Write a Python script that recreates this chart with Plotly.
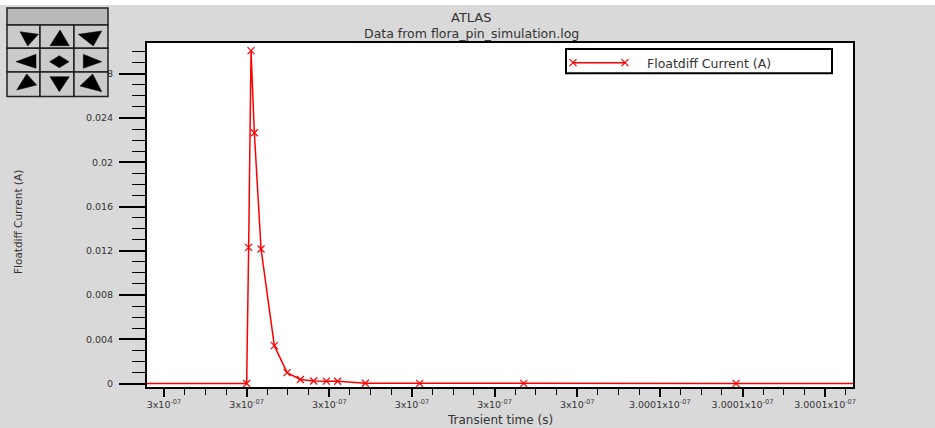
import plotly.graph_objects as go

# Floatdiff current transient (time in ps, current in A)
time_ps = [299990.0, 300000.0, 300000.024, 300000.053, 300000.093, 300000.174,
           300000.335, 300000.489, 300000.650, 300000.811, 300000.964,
           300001.101, 300001.436, 300002.093, 300003.352, 300005.922, 300010.9]
current_a = [0.0, 0.0, 0.01231, 0.03009, 0.02267, 0.01216,
             0.00342, 0.00098, 0.00036, 0.00023, 0.00021,
             0.00020, 0.00002, 0.00001, 0.00001, 0.000005, 0.0]

x_tick_ps = [299999, 300000, 300001, 300002, 300003, 300004, 300005, 300006, 300007]
x_tick_text = ["3x10<sup>-07</sup>"] * 6 + ["3.0001x10<sup>-07</sup>"] * 3
y_tick_vals = [0, 0.004, 0.008, 0.012, 0.016, 0.02, 0.024, 0.028]
y_tick_text = ["0", "0.004", "0.008", "0.012", "0.016", "0.02", "0.024", "0.028"]

series_name = "Floatdiff Current (A)"

# ---- layout geometry (pixels) ----
W, H = 935, 428
L, R, T, B = 147, 853, 43, 387          # plot-area edges


def px(x):
    return (x - L) / (R - L)


def py(y):
    return (B - y) / (B - T)


FONT = "DejaVu Sans"
TXT = "#333333"
RED = "#ff0000"
BG = "#d9d9d9"

time_s = [t * 1e-12 for t in time_ps]

marker_style = dict(symbol="x-thin", size=7, color=RED, line=dict(color=RED, width=1.2))

fig = go.Figure()

fig.add_trace(go.Scatter(
    x=time_s, y=current_a, mode="lines+markers", name=series_name,
    line=dict(color=RED, width=1.5), marker=marker_style,
    cliponaxis=True, showlegend=False, hoverinfo="x+y",
))

# legend key drawn on a pixel-space overlay axis
fig.add_trace(go.Scatter(
    x=[573, 625], y=[62.7, 62.7], xaxis="x2", yaxis="y2", mode="lines+markers",
    line=dict(color=RED, width=1.5), marker=marker_style,
    showlegend=False, hoverinfo="skip",
))

shapes = []
annotations = []

# legend box
shapes.append(dict(type="rect", xref="x2", yref="y2", x0=566, x1=832, y0=49, y1=73.3,
                   line=dict(color="black", width=2), fillcolor="white", layer="below"))
annotations.append(dict(xref="x2", yref="y2", x=645, y=63.5, xanchor="left", yanchor="middle",
                        text=series_name, showarrow=False,
                        font=dict(family=FONT, size=12.5, color=TXT)))

# white strip along the top edge
shapes.append(dict(type="rect", xref="paper", yref="paper", x0=px(0), x1=px(W),
                   y0=py(5), y1=py(0), line=dict(width=0), fillcolor="white", layer="above"))


def rect_px(x0, y0, x1, y1, fill, lw=1.5, lc="#222222"):
    return dict(type="rect", xref="paper", yref="paper",
                x0=px(x0), x1=px(x1), y0=py(y1), y1=py(y0),
                line=dict(color=lc, width=lw), fillcolor=fill, layer="above")


def poly_px(points, fill="black"):
    d = "M " + " L ".join(f"{px(a):.5f},{py(b):.5f}" for a, b in points) + " Z"
    return dict(type="path", xref="paper", yref="paper", path=d,
                fillcolor=fill, line=dict(color=fill, width=0.5), layer="above")


# navigation pad
shapes.append(rect_px(7, 8, 108, 25, "#b9b9b9"))
cols = [7, 40, 74, 108]
rows = [25, 48.3, 72, 96.5]
for i in range(3):
    for j in range(3):
        shapes.append(rect_px(cols[j], rows[i], cols[j + 1], rows[i + 1], "#cbcbcb"))

arrows = [
    [(20, 31.7), (38.3, 34.3), (27.7, 46)],
    [(60, 30), (69.3, 45.7), (50, 45.7)],
    [(78.3, 34.3), (101.7, 31), (93.3, 46)],
    [(16, 61.7), (36, 54.3), (36, 68.3)],
    [(49.6, 61.7), (59.3, 55.7), (69, 61.7), (59.3, 67.7)],
    [(83.3, 54.3), (101.7, 61.7), (83.3, 68.3)],
    [(16.7, 90), (26.7, 74), (36.7, 85)],
    [(50, 76.7), (69.3, 76.7), (59.3, 91.7)],
    [(80, 86), (92.7, 74), (101.7, 91.7)],
]
for pts in arrows:
    shapes.append(poly_px(pts))

# titles
annotations.append(dict(xref="paper", yref="paper", x=px(471), y=py(17), text="ATLAS",
                        showarrow=False, xanchor="center", yanchor="middle",
                        font=dict(family=FONT, size=13, color=TXT)))
annotations.append(dict(xref="paper", yref="paper", x=px(471), y=py(34),
                        text="Data from flora_pin_simulation.log",
                        showarrow=False, xanchor="center", yanchor="middle",
                        font=dict(family=FONT, size=12.5, color=TXT)))
annotations.append(dict(xref="paper", yref="paper", x=px(500), y=py(419.5),
                        text="Transient time (s)", showarrow=False,
                        xanchor="center", yanchor="middle",
                        font=dict(family=FONT, size=12, color=TXT)))
annotations.append(dict(xref="paper", yref="paper", x=px(18), y=py(222),
                        text="Floatdiff Current (A)", showarrow=False, textangle=-90,
                        xanchor="center", yanchor="middle",
                        font=dict(family=FONT, size=10.5, color=TXT)))

fig.update_layout(
    template="none",
    width=W, height=H,
    margin=dict(l=L, r=W - R, t=T, b=H - B, pad=0),
    paper_bgcolor=BG, plot_bgcolor="white",
    showlegend=False,
    shapes=shapes, annotations=annotations,
    xaxis=dict(
        range=[299998.794e-12, 300007.337e-12],
        tickmode="array", tickvals=[t * 1e-12 for t in x_tick_ps], ticktext=x_tick_text,
        ticks="outside", ticklen=8, tickwidth=2, tickcolor="black",
        tickfont=dict(family=FONT, size=9.5, color=TXT),
        minor=dict(tickmode="linear", tick0=299999e-12, dtick=0.25e-12,
                   ticks="outside", ticklen=6, tickwidth=1.2, tickcolor="black",
                   showgrid=False),
        showline=True, linecolor="black", linewidth=2, mirror=True,
        showgrid=False, zeroline=False, automargin=False,
    ),
    yaxis=dict(
        range=[-0.000316, 0.03078],
        tickmode="array", tickvals=y_tick_vals, ticktext=y_tick_text,
        ticks="outside", ticklen=26, tickwidth=2, tickcolor="black",
        ticklabelstandoff=4,
        tickfont=dict(family=FONT, size=9.5, color=TXT),
        minor=dict(tickmode="linear", tick0=0, dtick=0.001,
                   ticks="outside", ticklen=13, tickwidth=1.2, tickcolor="black",
                   showgrid=False),
        showline=True, linecolor="black", linewidth=2, mirror=True,
        showgrid=False, zeroline=False, automargin=False,
    ),
    xaxis2=dict(overlaying="x", range=[L, R], visible=False, fixedrange=True),
    yaxis2=dict(overlaying="y", range=[B, T], visible=False, fixedrange=True),
)

fig.write_html("out.html")
